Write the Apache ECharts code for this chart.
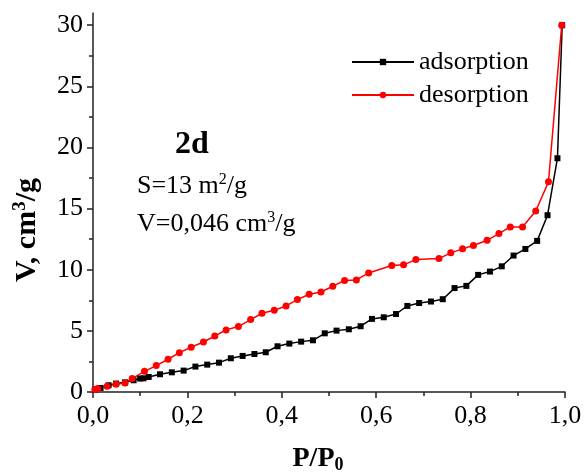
<!DOCTYPE html>
<html>
<head>
<meta charset="utf-8">
<script src="https://cdn.jsdelivr.net/npm/echarts@6/dist/echarts.min.js"></script>
<style>
    html, body { margin: 0; padding: 0; background: #fff; }
    #container { width: 585px; height: 476px; }
</style>
</head>
<body>
<div id="container"></div>
<script>
// adsorption branch
var adsX = [0.005, 0.016, 0.033, 0.049, 0.068, 0.086, 0.100, 0.107, 0.118, 0.142, 0.167, 0.192, 0.217, 0.242, 0.267, 0.292, 0.317, 0.342, 0.366, 0.391, 0.416, 0.441, 0.466, 0.491, 0.516, 0.542, 0.567, 0.591, 0.616, 0.642, 0.666, 0.691, 0.716, 0.741, 0.766, 0.791, 0.816, 0.841, 0.866, 0.891, 0.916, 0.941, 0.963, 0.984, 0.994];
var adsY = [0.2, 0.33, 0.55, 0.69, 0.79, 0.96, 1.10, 1.12, 1.23, 1.45, 1.61, 1.75, 2.08, 2.24, 2.40, 2.76, 2.95, 3.11, 3.25, 3.74, 3.96, 4.12, 4.23, 4.80, 5.02, 5.13, 5.38, 5.98, 6.11, 6.38, 7.04, 7.28, 7.40, 7.59, 8.50, 8.68, 9.58, 9.85, 10.28, 11.16, 11.70, 12.36, 14.46, 19.12, 30.0];

// desorption branch
var desX = [0.004, 0.010, 0.030, 0.049, 0.068, 0.083, 0.109, 0.134, 0.159, 0.183, 0.208, 0.234, 0.258, 0.282, 0.308, 0.334, 0.358, 0.384, 0.409, 0.433, 0.458, 0.483, 0.508, 0.533, 0.558, 0.584, 0.633, 0.658, 0.684, 0.733, 0.758, 0.783, 0.806, 0.835, 0.860, 0.884, 0.910, 0.938, 0.965, 0.993];
var desY = [0.2, 0.28, 0.47, 0.63, 0.74, 1.10, 1.69, 2.16, 2.68, 3.22, 3.66, 4.09, 4.58, 5.08, 5.35, 5.92, 6.44, 6.69, 7.04, 7.56, 8.00, 8.18, 8.65, 9.13, 9.17, 9.74, 10.34, 10.40, 10.83, 10.91, 11.38, 11.71, 11.98, 12.41, 12.96, 13.50, 13.50, 14.81, 17.19, 30.0];

var yMajor = [0, 5, 10, 15, 20, 25, 30];
var yMinor = [2.5, 7.5, 12.5, 17.5, 22.5, 27.5];

function pairs(xs, ys) {
    return xs.map(function (x, i) { return [x, ys[i]]; });
}

var font = 'Liberation Serif';
var axisColor = '#222';

var dom = document.getElementById('container');
var myChart = echarts.init(dom);
var option = {
    animation: false,
    grid: { left: 93, right: 20, top: 13, bottom: 84 },
    legend: {
        orient: 'vertical',
        left: 346,
        top: 44,
        itemWidth: 62,
        itemHeight: 8,
        itemGap: 7,
        textStyle: { fontFamily: font, fontSize: 26, color: '#000', lineHeight: 26 },
        data: ['adsorption', 'desorption']
    },
    xAxis: {
        type: 'value',
        min: 0,
        max: 1,
        interval: 0.2,
        axisLine: { lineStyle: { color: axisColor, width: 1.5 } },
        axisTick: { length: 6, lineStyle: { color: axisColor, width: 1.5 } },
        minorTick: { show: true, splitNumber: 2, length: 4, lineStyle: { color: axisColor, width: 1.5 } },
        splitLine: { show: false },
        axisLabel: {
            margin: 11,
            fontFamily: font,
            fontSize: 26,
            color: '#000',
            formatter: function (v) { return v.toFixed(1).replace('.', ','); }
        }
    },
    yAxis: [{
        type: 'value',
        min: 0,
        max: 31,
        axisLine: { show: true, lineStyle: { color: axisColor, width: 1.5 } },
        axisTick: { show: true, length: 6, customValues: yMajor, lineStyle: { color: axisColor, width: 1.5 } },
        splitLine: { show: false },
        axisLabel: {
            margin: 10,
            fontFamily: font,
            fontSize: 26,
            color: '#000',
            customValues: yMajor
        }
    }, {
        type: 'value',
        position: 'left',
        min: 0,
        max: 31,
        axisLine: { show: false },
        axisTick: { show: true, length: 4, customValues: yMinor, lineStyle: { color: axisColor, width: 1.5 } },
        splitLine: { show: false },
        axisLabel: { show: false }
    }],
    graphic: [
        {
            type: 'text', x: 175, y: 145,
            style: { text: '2d', font: 'bold 32px "Liberation Serif"', fill: '#000', verticalAlign: 'middle' }
        },
        {
            type: 'text', x: 137, y: 186,
            style: {
                text: 'S=13 m{sup|2}/g',
                font: '26px "Liberation Serif"', fill: '#000', verticalAlign: 'middle',
                rich: { sup: { fontFamily: font, fontSize: 16, verticalAlign: 'top', padding: [0, 0, 12, 0] } }
            }
        },
        {
            type: 'text', x: 137, y: 224,
            style: {
                text: 'V=0,046 cm{sup|3}/g',
                font: '26px "Liberation Serif"', fill: '#000', verticalAlign: 'middle',
                rich: { sup: { fontFamily: font, fontSize: 16, verticalAlign: 'top', padding: [0, 0, 12, 0] } }
            }
        },
        {
            type: 'text', x: 27, y: 230, rotation: Math.PI / 2,
            style: {
                text: 'V, cm{sup|3}/g',
                font: 'bold 30px "Liberation Serif"', fill: '#000', align: 'center', verticalAlign: 'middle',
                rich: { sup: { fontFamily: font, fontWeight: 'bold', fontSize: 19, padding: [0, 0, 13, 0] } }
            }
        },
        {
            type: 'text', x: 318, y: 459,
            style: {
                text: 'P/P{sub|0}',
                font: 'bold 28px "Liberation Serif"', fill: '#000', align: 'center', verticalAlign: 'middle',
                rich: { sub: { fontFamily: font, fontWeight: 'bold', fontSize: 18, padding: [12, 0, 0, 0] } }
            }
        }
    ],
    series: [
        {
            name: 'adsorption',
            type: 'line',
            data: pairs(adsX, adsY),
            color: '#000',
            symbol: 'rect',
            symbolSize: 6,
            lineStyle: { color: '#000', width: 1.5 },
            itemStyle: { color: '#000' }
        },
        {
            name: 'desorption',
            type: 'line',
            data: pairs(desX, desY),
            color: '#ff0000',
            symbol: 'circle',
            symbolSize: 7,
            lineStyle: { color: '#ff0000', width: 1.5 },
            itemStyle: { color: '#ff0000' }
        }
    ]
};
myChart.setOption(option, true);
</script>
</body>
</html>
